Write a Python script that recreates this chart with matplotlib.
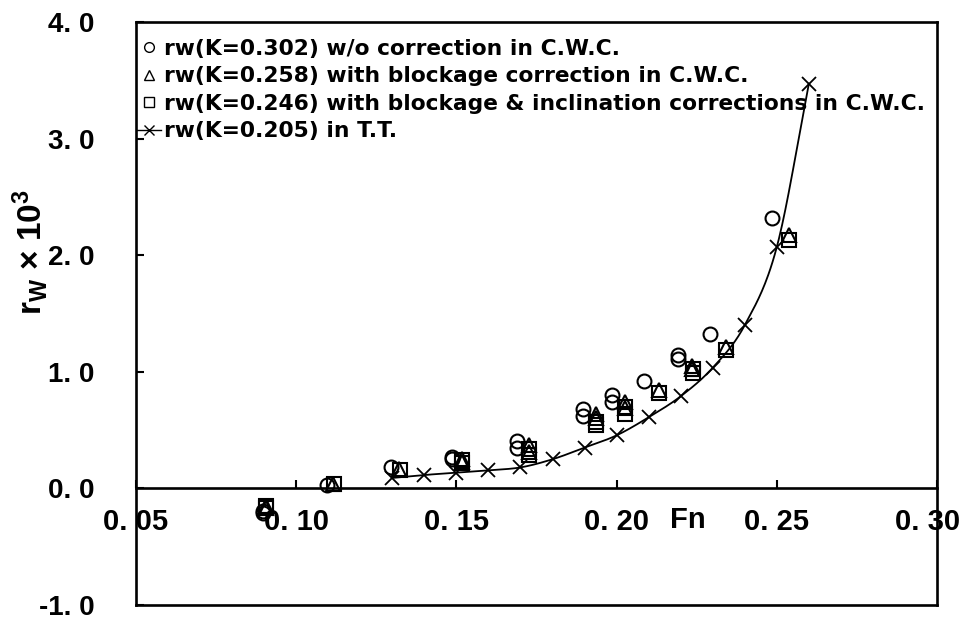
import numpy as np
import matplotlib
matplotlib.use("Agg")
import matplotlib.pyplot as plt
from matplotlib.lines import Line2D
import matplotlib.transforms as mtransforms

plt.rcParams['font.family'] = ['Liberation Sans', 'DejaVu Sans']
plt.rcParams['font.weight'] = 'bold'
plt.rcParams['mathtext.default'] = 'regular'

# C.W.C. runs without correction (K=0.302)
fn_raw = [0.0895, 0.0895, 0.1095, 0.1295, 0.1487, 0.1487, 0.1690, 0.1690,
          0.1896, 0.1896, 0.1985, 0.1985, 0.2087, 0.2193, 0.2193, 0.2292, 0.2484]
rw_raw = [-0.21, -0.19, 0.03, 0.18, 0.27, 0.25, 0.41, 0.35,
          0.68, 0.62, 0.80, 0.74, 0.92, 1.14, 1.11, 1.32, 2.32]

# C.W.C. runs with blockage correction (K=0.258)
fn_blk = [0.0905, 0.0905, 0.1115, 0.1322, 0.1516, 0.1516, 0.1727, 0.1727,
          0.1935, 0.1935, 0.2025, 0.2025, 0.2131, 0.2236, 0.2236, 0.2340, 0.2537]
rw_blk = [-0.17, -0.15, 0.04, 0.17, 0.25, 0.23, 0.37, 0.31,
          0.64, 0.60, 0.74, 0.69, 0.84, 1.05, 1.02, 1.21, 2.17]

# C.W.C. runs with blockage & inclination corrections (K=0.246)
fn_inc = [0.0907, 0.0907, 0.1118, 0.1324, 0.1517, 0.1517, 0.1728, 0.1728,
          0.1936, 0.1936, 0.2026, 0.2026, 0.2132, 0.2237, 0.2237, 0.2341, 0.2538]
rw_inc = [-0.17, -0.15, 0.035, 0.16, 0.24, 0.22, 0.34, 0.29,
          0.57, 0.54, 0.70, 0.64, 0.82, 1.02, 0.99, 1.19, 2.13]

# Towing tank (K=0.205)
fn_tt = [0.13, 0.14, 0.15, 0.16, 0.17, 0.18, 0.19, 0.20, 0.21, 0.22,
         0.23, 0.24, 0.25, 0.26]
rw_tt = [0.09, 0.115, 0.135, 0.155, 0.18, 0.25, 0.35, 0.455, 0.61, 0.79,
         1.035, 1.40, 2.07, 3.47]

labels = ["rw(K=0.302) w/o correction in C.W.C.",
          "rw(K=0.258) with blockage correction in C.W.C.",
          "rw(K=0.246) with blockage & inclination corrections in C.W.C.",
          "rw(K=0.205) in T.T."]

x_ticks = [0.05, 0.10, 0.15, 0.20, 0.25, 0.30]
x_ticklabels = ["0. 05", "0. 10", "0. 15", "0. 20", "0. 25", "0. 30"]
y_ticks = [-1.0, 0.0, 1.0, 2.0, 3.0, 4.0]
y_ticklabels = ["-1. 0", "0. 0", "1. 0", "2. 0", "3. 0", "4. 0"]


def smooth_curve(x, y, n=30):
    """Catmull-Rom style smoothing through the given points."""
    x = np.asarray(x, float)
    y = np.asarray(y, float)
    px = np.concatenate([[2 * x[0] - x[1]], x, [2 * x[-1] - x[-2]]])
    py = np.concatenate([[2 * y[0] - y[1]], y, [2 * y[-1] - y[-2]]])
    xs, ys = [], []
    t = np.linspace(0, 1, n, endpoint=False)
    for i in range(1, len(px) - 2):
        p0, p1, p2, p3 = (np.array([px[j], py[j]]) for j in range(i - 1, i + 3))
        c1 = p1 + (p2 - p0) / 6.0
        c2 = p2 - (p3 - p1) / 6.0
        b = ((1 - t) ** 3)[:, None] * p1 + (3 * (1 - t) ** 2 * t)[:, None] * c1 \
            + (3 * (1 - t) * t ** 2)[:, None] * c2 + (t ** 3)[:, None] * p2
        xs.append(b[:, 0]); ys.append(b[:, 1])
    xs.append([x[-1]]); ys.append([y[-1]])
    return np.concatenate(xs), np.concatenate(ys)


fig = plt.figure(figsize=(9.63, 6.24), dpi=100)
ax = fig.add_axes([136 / 963, 1 - 605 / 624, 801 / 963, 583 / 624])

mk = dict(linestyle='none', markerfacecolor='none', markeredgecolor='black',
          markeredgewidth=1.5, markersize=10)
ax.plot(fn_raw, rw_raw, marker='o', **mk)
ax.plot(fn_blk, rw_blk, marker='^', **mk)
ax.plot(fn_inc, rw_inc, marker='s', **mk)

sx, sy = smooth_curve(fn_tt, rw_tt)
ax.plot(sx, sy, color='black', lw=1.3)
ax.plot(fn_tt, rw_tt, linestyle='none', marker='x', markersize=10,
        markeredgewidth=1.3, color='black')

ax.set_xlim(0.05, 0.30)
ax.set_ylim(-1.0, 4.0)

for s in ['left', 'right', 'top', 'bottom']:
    ax.spines[s].set_linewidth(1.9)
ax.spines['bottom'].set_position(('data', 0.0))
ax.plot([0, 1], [0, 0], transform=ax.transAxes, color='black', lw=1.9,
        clip_on=False, solid_capstyle='projecting')

ax.set_xticks(x_ticks)
ax.set_xticklabels(x_ticklabels)
ax.set_yticks(y_ticks)
ax.set_yticklabels(y_ticklabels)
ax.tick_params(axis='x', direction='in', length=6, width=1.5, pad=14,
               labelsize=21)
ax.tick_params(axis='y', direction='in', length=6, width=1.5, pad=30,
               labelsize=20)

# keep the rightmost x label inside the figure edge
last = ax.get_xticklabels()[-1]
last.set_transform(last.get_transform() +
                   mtransforms.ScaledTranslation(-9 / 100, 0, fig.dpi_scale_trans))

ax.text(0.2223, -0.275, "Fn", fontsize=21, ha='center', va='center')
ax.text(-0.132, 0.605, r"r$_W$ × 10$^3$", fontsize=24, rotation=90,
        ha='center', va='center', transform=ax.transAxes)

handles = [
    Line2D([], [], linestyle='none', marker='o', markerfacecolor='none',
           markeredgecolor='black', markeredgewidth=1.0, markersize=7),
    Line2D([], [], linestyle='none', marker='^', markerfacecolor='none',
           markeredgecolor='black', markeredgewidth=1.0, markersize=7),
    Line2D([], [], linestyle='none', marker='s', markerfacecolor='none',
           markeredgecolor='black', markeredgewidth=1.0, markersize=7),
    Line2D([], [], color='black', lw=1.0, marker='x', markersize=7,
           markeredgewidth=1.0),
]
ax.legend(handles, labels, loc='upper left', bbox_to_anchor=(0.001, 0.971),
          frameon=False, prop=dict(family='DejaVu Sans', weight='bold', size=15.7),
          borderpad=0, borderaxespad=0,
          handlelength=1.1, handletextpad=0.17, labelspacing=0.34)

fig.savefig("out.png", dpi=100)
